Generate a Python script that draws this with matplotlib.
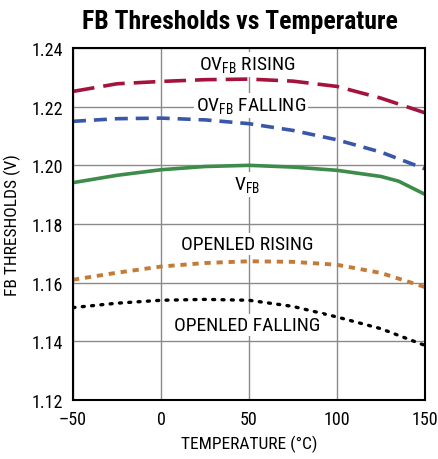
import matplotlib
matplotlib.use("Agg")
import matplotlib.pyplot as plt

fams = ['Roboto Condensed', 'Archivo Narrow', 'DejaVu Sans']
plt.rcParams['font.family'] = fams
plt.rcParams['font.stretch'] = 'condensed'
plt.rcParams['mathtext.fontset'] = 'custom'
plt.rcParams['mathtext.rm'] = 'Roboto Condensed'

temp = [-50, -25, 0, 25, 50, 75, 100, 125, 150]
ov_rising = [1.2252, 1.2278, 1.2286, 1.2292, 1.2294, 1.2287, 1.2269, 1.2229, 1.2179]
ov_falling = [1.2150, 1.2159, 1.2161, 1.2155, 1.2142, 1.2119, 1.2087, 1.2045, 1.1988]
vfb_temp = [-50, -25, 0, 25, 50, 75, 100, 125, 135, 150]
vfb = [1.1941, 1.1966, 1.1985, 1.1996, 1.2000, 1.1994, 1.1983, 1.1962, 1.1946, 1.1901]
openled_rising = [1.1610, 1.1634, 1.1655, 1.1667, 1.1673, 1.1671, 1.1661, 1.1633, 1.1585]
openled_falling = [1.1515, 1.1530, 1.1540, 1.1543, 1.1540, 1.1519, 1.1483, 1.1443, 1.1386]

xticks = [-50, 0, 50, 100, 150]
xticklabels = ['\u201350', '0', '50', '100', '150']
yticks = [1.12, 1.14, 1.16, 1.18, 1.20, 1.22, 1.24]

fig = plt.figure(figsize=(4.38, 4.6), dpi=100)
ax = fig.add_axes([73 / 438, 1 - 401 / 460, 352 / 438, 352 / 460])

ax.plot(temp, ov_rising, color='#a3133c', lw=2.6, dashes=(6, 2.5))
ax.plot(temp, ov_falling, color='#3a56a8', lw=2.6, dashes=(3.6, 2.2))
ax.plot(vfb_temp, vfb, color='#3d8c4a', lw=2.6)
ax.plot(temp, openled_rising, color='#c47a38', lw=2.8, dashes=(1.6, 1.5))
ax.plot(temp, openled_falling, color='black', lw=2.4, dashes=(0.6, 2.2), dash_capstyle='round')

box = dict(facecolor='white', edgecolor='none', pad=1.5)
kw = dict(ha='center', va='center', fontsize=14, bbox=box)
ax.text(49, 1.2344, r'OV$_{\mathregular{FB}}$ RISING', **kw)
ax.text(51, 1.2203, r'OV$_{\mathregular{FB}}$ FALLING', **kw)
ax.text(49, 1.1935, r'V$_{\mathregular{FB}}$', **kw)
ax.text(49, 1.1733, 'OPENLED RISING', **kw)
ax.text(49, 1.1455, 'OPENLED FALLING', **kw)

ax.set_xlim(-50, 150)
ax.set_ylim(1.12, 1.24)
ax.set_xticks(xticks)
ax.set_xticklabels(xticklabels)
ax.set_yticks(yticks)
ax.set_yticklabels(['%.2f' % v for v in yticks])
ax.tick_params(length=0, labelsize=13, pad=7)
ax.grid(True, color='#8a8a8a', lw=1)
ax.set_axisbelow(True)
for s in ax.spines.values():
    s.set_linewidth(1.5)

ax.set_xlabel('TEMPERATURE (\u00b0C)', fontsize=12.5, labelpad=5)
ax.set_ylabel('FB THRESHOLDS (V)', fontsize=12.5, labelpad=8)
fig.text(240 / 438, 1 - 22 / 460, 'FB Thresholds vs Temperature', ha='center', va='center',
         fontsize=18.5, fontweight='bold')

fig.savefig('out.png', dpi=100)
